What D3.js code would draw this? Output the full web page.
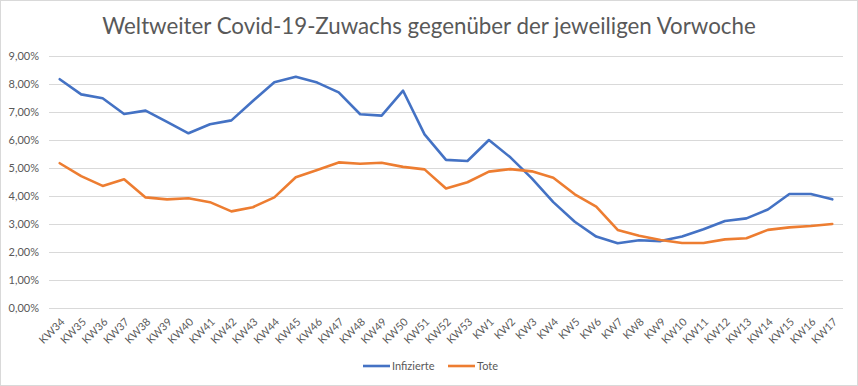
<!DOCTYPE html>
<html>
<head>
<meta charset="utf-8">
<script src="https://cdn.jsdelivr.net/npm/d3@7"></script>
<style>
	body { margin: 0; background: #fff; }
	text { font-family: Lato, "Open Sans", sans-serif; fill: #595959; }
</style>
</head>
<body>
<div id="chart"></div>
<script>
var weeks = ["KW34","KW35","KW36","KW37","KW38","KW39","KW40","KW41","KW42","KW43","KW44","KW45","KW46","KW47","KW48","KW49","KW50","KW51","KW52","KW53",
	"KW1","KW2","KW3","KW4","KW5","KW6","KW7","KW8","KW9","KW10","KW11","KW12","KW13","KW14","KW15","KW16","KW17"];
var infizierte = [8.17,7.63,7.49,6.93,7.05,6.65,6.24,6.56,6.70,7.39,8.06,8.26,8.05,7.70,6.92,6.87,7.76,6.20,5.29,5.25,
	6.00,5.38,4.63,3.78,3.08,2.55,2.31,2.42,2.39,2.55,2.81,3.11,3.20,3.52,4.07,4.07,3.88];
var tote = [5.17,4.71,4.36,4.60,3.95,3.88,3.92,3.78,3.45,3.60,3.95,4.67,4.93,5.20,5.15,5.19,5.04,4.95,4.27,4.49,
	4.87,4.96,4.88,4.65,4.06,3.62,2.79,2.58,2.43,2.32,2.32,2.45,2.49,2.79,2.88,2.93,3.00];
var yTicks = [0,1,2,3,4,5,6,7,8,9];
var seriesNames = ["Infizierte","Tote"];
var colors = ["#4472C4","#ED7D31"];

(function(){
	var W = 858, H = 386;
	var margin = { top: 56, right: 15, bottom: 78, left: 49 };
	var width = W - margin.left - margin.right;
	var height = H - margin.top - margin.bottom;

	var svg = d3.select("#chart").append("svg")
		.attr("width", W)
		.attr("height", H);

	svg.append("rect")
		.attr("x", 0.5).attr("y", 0.5)
		.attr("width", W - 1).attr("height", H - 1)
		.attr("fill", "#fff")
		.attr("stroke", "#d9d9d9");

	svg.append("text")
		.attr("x", W / 2)
		.attr("y", 34)
		.attr("text-anchor", "middle")
		.style("font-size", "22.3px")
		.text("Weltweiter Covid-19-Zuwachs gegenüber der jeweiligen Vorwoche");

	var g = svg.append("g")
		.attr("transform", "translate(" + margin.left + "," + margin.top + ")");

	var x = d3.scalePoint()
		.domain(weeks)
		.range([0, width])
		.padding(0.5);

	var y = d3.scaleLinear()
		.domain([0, 9])
		.range([height, 0]);

	// gridlines
	g.append("g")
		.selectAll("line")
		.data(yTicks)
		.enter().append("line")
		.attr("x1", 0).attr("x2", width)
		.attr("y1", function(d){ return Math.round(y(d)) + 0.5; })
		.attr("y2", function(d){ return Math.round(y(d)) + 0.5; })
		.attr("stroke", "#d9d9d9")
		.attr("stroke-width", 1);

	// y labels
	g.append("g")
		.selectAll("text")
		.data(yTicks)
		.enter().append("text")
		.attr("x", -10)
		.attr("y", function(d){ return y(d); })
		.attr("dy", "0.35em")
		.attr("text-anchor", "end")
		.style("font-size", "11px")
		.text(function(d){ return d3.format(".2f")(d).replace(".", ",") + "%"; });

	// x labels
	g.append("g")
		.selectAll("text")
		.data(weeks)
		.enter().append("text")
		.attr("transform", function(d){ return "translate(" + (x(d) + 3) + "," + (height + 12) + ") rotate(-45)"; })
		.attr("text-anchor", "end")
		.attr("dy", "0.35em")
		.style("font-size", "10.8px")
		.text(function(d){ return d; });

	var line = d3.line()
		.x(function(d, i){ return x(weeks[i]); })
		.y(function(d){ return y(d); });

	[infizierte, tote].forEach(function(s, i){
		g.append("path")
			.datum(s)
			.attr("fill", "none")
			.attr("stroke", colors[i])
			.attr("stroke-width", 2.6)
			.attr("stroke-linejoin", "round")
			.attr("stroke-linecap", "round")
			.attr("d", line);
	});

	// legend
	var legendX = [363, 448];
	var legend = svg.append("g");
	seriesNames.forEach(function(n, i){
		legend.append("line")
			.attr("x1", legendX[i]).attr("x2", legendX[i] + 27)
			.attr("y1", 366).attr("y2", 366)
			.attr("stroke", colors[i])
			.attr("stroke-width", 2.6);
		legend.append("text")
			.attr("x", legendX[i] + 29)
			.attr("y", 366)
			.attr("dy", "0.35em")
			.style("font-size", "11px")
			.text(n);
	});
})();
</script>
</body>
</html>
